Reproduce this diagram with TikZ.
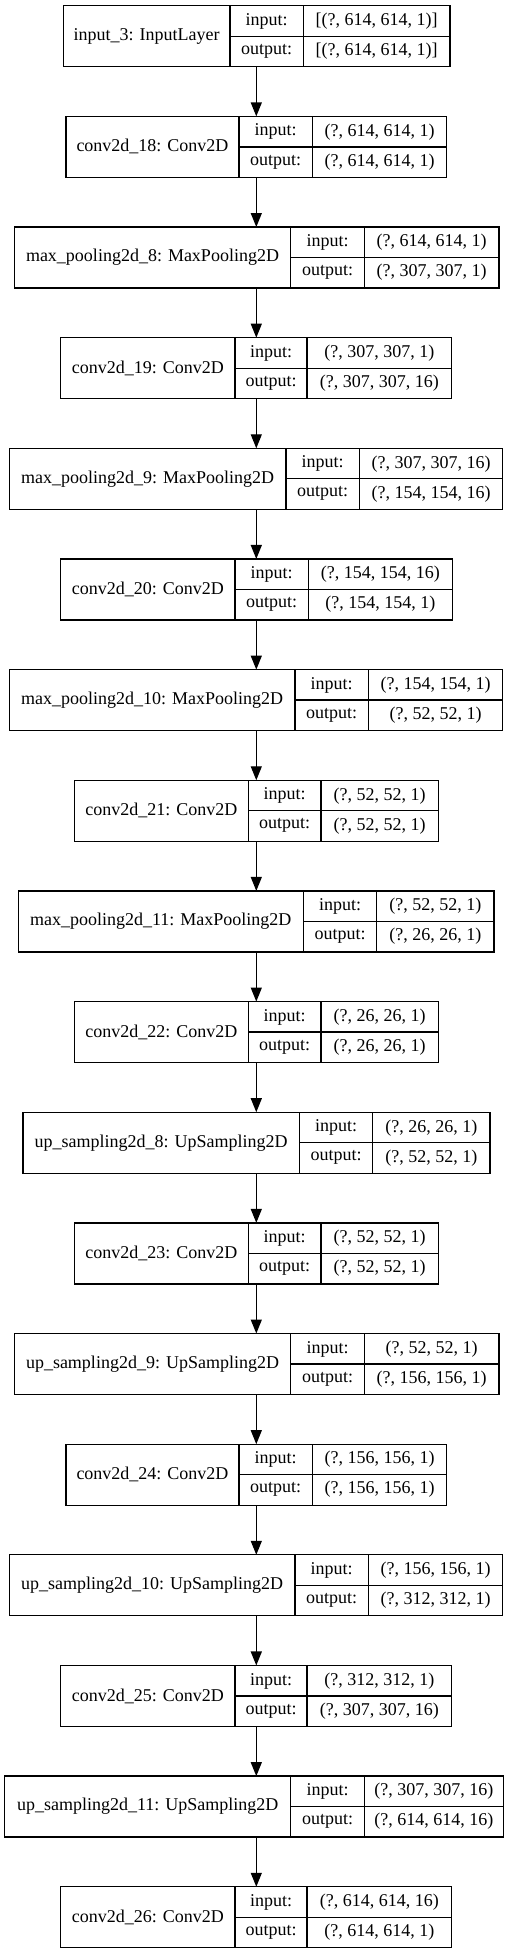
\documentclass[tikz,border=0pt]{standalone}
\usepackage{fontspec}
\setmainfont{Liberation Serif}
\usetikzlibrary{arrows.meta}
\tikzset{
  box/.style={draw=black, line width=1.3pt, rectangle, inner sep=0pt, outer sep=0pt, minimum height=61pt},
  cell/.style={draw=black, line width=1.3pt},
  txt/.style={inner sep=0pt, font=\fontsize{18}{20}\selectfont},
  arr/.style={draw=black, line width=1.3pt, -{Triangle[length=14pt,width=11pt]}}
}
% #1 name, #2 top, #3 left, #4 div1, #5 div2, #6 right, #7 label, #8 in, #9 out
\newcommand\layerbox[9]{%
  \node[box, minimum width={(#6-#3)*1pt}, anchor=north west] (#1) at (#3,-#2) {};
  \draw[cell] (#4,-#2) -- (#4,{-#2-61});
  \draw[cell] (#5,-#2) -- (#5,{-#2-61});
  \draw[cell] (#4,{-#2-30.5}) -- (#6,{-#2-30.5});
  \node[txt] (#1-lab) at ({(#3+#4)/2},{-#2-30.5}) {#7};
  \node[txt] (#1-ik) at ({(#4+#5)/2},{-#2-15.5}) {input:};
  \node[txt] (#1-ok) at ({(#4+#5)/2},{-#2-45.5}) {output:};
  \node[txt] (#1-iv) at ({(#5+#6)/2},{-#2-15.5}) {#8};
  \node[txt] (#1-ov) at ({(#5+#6)/2},{-#2-45.5}) {#9};
}
\begin{document}
\begin{tikzpicture}[x=1pt,y=1pt]
\useasboundingbox (0,0) rectangle (513,-1955);
\coordinate (axis) at (256.3,0);
\layerbox{L1}{5.7}{63.3}{230}{303.3}{450}{input\_3: InputLayer}{[(?, 614, 614, 1)]}{[(?, 614, 614, 1)]}
\layerbox{L2}{116.35}{66}{239}{312.3}{446.7}{conv2d\_18: Conv2D}{(?, 614, 614, 1)}{(?, 614, 614, 1)}
\layerbox{L3}{227.0}{14.3}{290.7}{364.3}{499}{max\_pooling2d\_8: MaxPooling2D}{(?, 614, 614, 1)}{(?, 307, 307, 1)}
\layerbox{L4}{337.65}{60.7}{235}{307}{451.7}{conv2d\_19: Conv2D}{(?, 307, 307, 1)}{(?, 307, 307, 16)}
\layerbox{L5}{448.3}{9.3}{286}{359.3}{502.7}{max\_pooling2d\_9: MaxPooling2D}{(?, 307, 307, 16)}{(?, 154, 154, 16)}
\layerbox{L6}{558.95}{60.7}{235}{308.3}{452.3}{conv2d\_20: Conv2D}{(?, 154, 154, 16)}{(?, 154, 154, 1)}
\layerbox{L7}{669.6}{9.3}{295}{368.3}{502.7}{max\_pooling2d\_10: MaxPooling2D}{(?, 154, 154, 1)}{(?, 52, 52, 1)}
\layerbox{L8}{780.25}{74.3}{248.3}{321}{438.3}{conv2d\_21: Conv2D}{(?, 52, 52, 1)}{(?, 52, 52, 1)}
\layerbox{L9}{890.9}{18.3}{303.3}{376.7}{494}{max\_pooling2d\_11: MaxPooling2D}{(?, 52, 52, 1)}{(?, 26, 26, 1)}
\layerbox{L10}{1001.55}{74.3}{248.3}{321}{438.3}{conv2d\_22: Conv2D}{(?, 26, 26, 1)}{(?, 26, 26, 1)}
\layerbox{L11}{1112.2}{23}{299.3}{372.7}{490}{up\_sampling2d\_8: UpSampling2D}{(?, 26, 26, 1)}{(?, 52, 52, 1)}
\layerbox{L12}{1222.85}{74.3}{248.3}{321}{438.3}{conv2d\_23: Conv2D}{(?, 52, 52, 1)}{(?, 52, 52, 1)}
\layerbox{L13}{1333.5}{14.3}{290.7}{364.3}{499}{up\_sampling2d\_9: UpSampling2D}{(?, 52, 52, 1)}{(?, 156, 156, 1)}
\layerbox{L14}{1444.15}{66}{239}{312.3}{446.7}{conv2d\_24: Conv2D}{(?, 156, 156, 1)}{(?, 156, 156, 1)}
\layerbox{L15}{1554.8}{9.3}{295}{368.3}{502.7}{up\_sampling2d\_10: UpSampling2D}{(?, 156, 156, 1)}{(?, 312, 312, 1)}
\layerbox{L16}{1665.45}{60.7}{235}{307}{451.7}{conv2d\_25: Conv2D}{(?, 312, 312, 1)}{(?, 307, 307, 16)}
\layerbox{L17}{1776.1}{4.7}{290.7}{364.3}{503.3}{up\_sampling2d\_11: UpSampling2D}{(?, 307, 307, 16)}{(?, 614, 614, 16)}
\layerbox{L18}{1886.75}{60.7}{235}{307}{451.7}{conv2d\_26: Conv2D}{(?, 614, 614, 16)}{(?, 614, 614, 1)}
\foreach \a/\b in {1/2,2/3,3/4,4/5,5/6,6/7,7/8,8/9,9/10,10/11,11/12,12/13,13/14,14/15,15/16,16/17,17/18}
  \draw[arr] (L\a.south -| axis) -- (L\b.north -| axis);
\end{tikzpicture}
\end{document}
